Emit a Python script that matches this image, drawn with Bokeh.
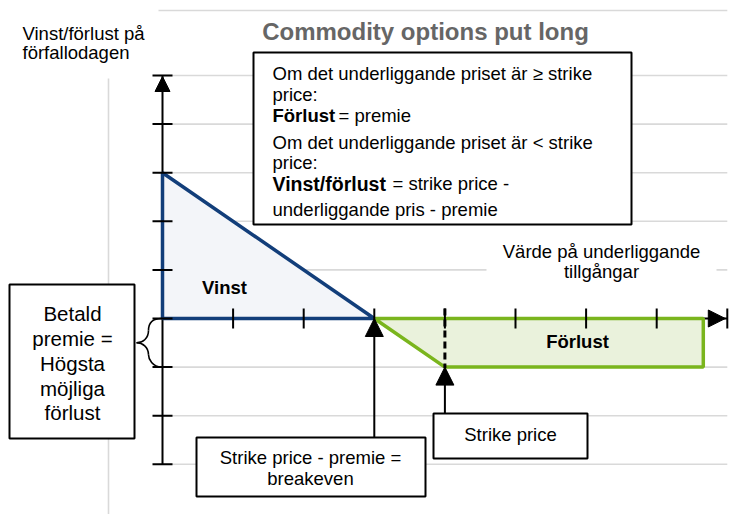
from bokeh.plotting import figure
from bokeh.models import Range1d, Label, BoxAnnotation, Arrow, NormalHead
from bokeh.embed import file_html
from bokeh.resources import INLINE

# ---------------- data ----------------
prices = [0, 3, 4, 7.66]          # underlying price at the polygon corners
payoff = [3, 0, -1, -1]           # profit / loss at expiry
strike = 4
premium = 1
breakeven = strike - premium
x_ticks = [1, 2, 3, 4, 5, 6, 7, 8]
y_ticks = [-3, -2, -1, 0, 1, 2, 3, 4, 5]
grid_levels = [-3, -2, -1, 1, 2, 3, 4, 5]
x_max = 8
y_min, y_max = -3, 5

title_text = "Commodity options put long"
y_label = ["Vinst/förlust på", "förfallodagen"]
x_label = ["Värde på underliggande", "tillgångar"]
box_lines = [
    ("", "Om det underliggande priset är ≥ strike"),
    ("", "price:"),
    ("Förlust", "= premie"),
    ("", "Om det underliggande priset är < strike"),
    ("", "price:"),
    ("Vinst/förlust", "= strike price -"),
    ("", "underliggande pris - premie"),
]
left_box_lines = ["Betald", "premie =", "Högsta", "möjliga", "förlust"]
breakeven_lines = ["Strike price - premie =", "breakeven"]
strike_label = "Strike price"

# ---------------- geometry helpers (pixel -> data) ----------------
PX_X0, PX_Y0, UX, UY = 162.0, 318.0, 70.6, 48.6
X = lambda r: (r - PX_X0) / UX
Y = lambda r: (PX_Y0 - r) / UY
DX = lambda px: px / UX
DY = lambda px: px / UY

W, H = 736, 514
FONT = "Liberation Sans"
BLUE = "#123e7a"
BLUE_FILL = "#f3f5f9"
GREEN = "#7ab51d"
GREEN_FILL = "#eaf2dc"
GRID = "#d9d9d9"

p = figure(width=W, height=H, x_range=Range1d(X(0), X(W)),
           y_range=Range1d(Y(H), Y(0)), output_backend="svg",
           toolbar_location=None, min_border=0,
           x_axis_location=None, y_axis_location=None)
p.grid.visible = False
p.outline_line_color = None
p.background_fill_color = "white"

# grid lines
n = len(grid_levels)
p.segment(x0=[X(158)] * n, y0=grid_levels, x1=[x_max] * n, y1=grid_levels,
          line_color=GRID, line_width=1.6)
p.segment(x0=[X(158)], y0=[Y(10)], x1=[x_max], y1=[Y(10)], line_color=GRID, line_width=1.6)
p.segment(x0=[X(108)], y0=[Y(78)], x1=[X(108)], y1=[Y(530)], line_color=GRID, line_width=1.6)

# filled regions
blue_x = [prices[0], prices[0], prices[1]]
blue_y = [0, payoff[0], payoff[1]]
green_x = [prices[1], prices[2], prices[3], prices[3]]
green_y = [payoff[1], payoff[2], payoff[3], 0]
p.patch(blue_x, blue_y, fill_color=BLUE_FILL, line_color=None)
p.patch(green_x, green_y, fill_color=GREEN_FILL, line_color=None)

# axes lines
p.segment(x0=[0], y0=[y_min], x1=[0], y1=[y_max], line_color="black", line_width=2)
p.segment(x0=[0], y0=[0], x1=[x_max], y1=[0], line_color="black", line_width=2)

# outlines
p.patch(blue_x, blue_y, fill_alpha=0, line_color=BLUE, line_width=3.5)
p.patch(green_x, green_y, fill_alpha=0, line_color=GREEN, line_width=3.5)

# dashed strike line
p.segment(x0=[strike], y0=[DY(10)], x1=[strike], y1=[payoff[2] - DY(1)],
          line_color="black", line_width=3, line_dash="7 4")

# ticks
p.segment(x0=x_ticks, y0=[DY(10)] * len(x_ticks), x1=x_ticks, y1=[-DY(10)] * len(x_ticks),
          line_color="black", line_width=2)
p.segment(x0=[-DX(10)] * len(y_ticks), y0=y_ticks, x1=[DX(10)] * len(y_ticks), y1=y_ticks,
          line_color="black", line_width=2)

# curly brace for premium
top, bot = 0, -premium
mid = (top + bot) / 2
p.bezier(x0=[X(161), X(148), X(136), X(148)],
         y0=[top, top - DY(12), mid, mid - DY(12)],
         x1=[X(148), X(136), X(148), X(161)],
         y1=[top - DY(12), mid, mid - DY(12), bot],
         cx0=[X(152), X(148), X(142), X(148)],
         cy0=[top, mid + DY(4), mid, bot + DY(8)],
         cx1=[X(148), X(142), X(148), X(152)],
         cy1=[top - DY(4), mid, mid - DY(4), bot],
         line_color="black", line_width=1.6)

# axis arrow heads
p.add_layout(Arrow(end=NormalHead(size=15, fill_color="black", line_color="black"),
                   x_start=0, y_start=y_max - DY(16), x_end=0, y_end=y_max - DY(1),
                   line_alpha=0))
p.add_layout(Arrow(end=NormalHead(size=17, fill_color="black", line_color="black"),
                   x_start=x_max - DX(20), y_start=0, x_end=x_max - DX(2), y_end=0,
                   line_alpha=0))


def box(l, r, t, b, line=True):
    p.add_layout(BoxAnnotation(left=X(l), right=X(r), top=Y(t), bottom=Y(b),
                               fill_color="white", fill_alpha=1,
                               line_color="black" if line else None,
                               line_width=2, line_alpha=1 if line else 0))


def lab(xp, yp, text, size="18.5px", bold=False, align="left", color="black"):
    p.add_layout(Label(x=X(xp), y=Y(yp), text=text, text_font=FONT,
                       text_font_size=size, text_font_style="bold" if bold else "normal",
                       text_align=align, text_baseline="middle", text_color=color))


# white patch behind x-axis label
box(486, 716, 238, 283, line=False)
# text boxes
box(253, 631, 52, 224)
box(9, 134, 284, 438)
box(196, 425, 437, 496)
box(433, 587, 413, 458)

# title and axis titles
lab(425, 31, title_text, size="24px", bold=True, align="center", color="#666666")
lab(22, 33, y_label[0])
lab(22, 52, y_label[1])
lab(601, 251, x_label[0], align="center")
lab(601, 271, x_label[1], align="center")

# info box text
box_y = [73, 94, 115, 142, 162, 183, 209]
for (b, t), yy in zip(box_lines, box_y):
    if b == "Förlust":
        lab(272, yy, b, size="18.5px", bold=True)
        lab(338, yy, t)
    elif b:
        lab(272, yy, b, size="19.5px", bold=True)
        lab(392, yy, t)
    else:
        lab(272, yy, t)

# left box text
for t, yy in zip(left_box_lines, [313, 338, 363, 388, 412]):
    lab(72, yy, t, size="20.5px", align="center")

# bottom boxes text
lab(310, 457, breakeven_lines[0], align="center")
lab(310, 478, breakeven_lines[1], align="center")
lab(510, 434, strike_label, align="center")

# region labels
lab(224, 287, "Vinst", bold=True, align="center")
lab(577, 341, "Förlust", bold=True, align="center")

# pointer arrows
p.add_layout(Arrow(end=NormalHead(size=18, fill_color="black", line_color="black"),
                   x_start=breakeven, y_start=Y(437), x_end=breakeven, y_end=payoff[1],
                   line_color="black", line_width=2))
p.add_layout(Arrow(end=NormalHead(size=18, fill_color="black", line_color="black"),
                   x_start=strike, y_start=Y(413), x_end=strike, y_end=payoff[2],
                   line_color="black", line_width=2))

open("out.html", "w").write(file_html(p, INLINE))
